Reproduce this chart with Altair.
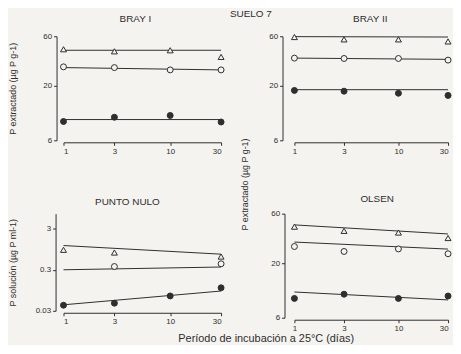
import altair as alt
import pandas as pd

INK = "#2e2e2e"
BG = "#f4f3ef"

days = [1, 3, 10, 30]
fit_days = [1, 30]
series_names = ["triangulo", "circulo abierto", "circulo lleno"]

# BRAY I  (µg P g-1)
bray1_tri = [45, 43, 44, 38]
bray1_open = [30.5, 30, 28.5, 28.5]
bray1_fill = [9.1, 10.0, 10.4, 9.0]
bray1_tri_fit = [44, 44]
bray1_open_fit = [30, 28.5]
bray1_fill_fit = [9.5, 9.5]

# BRAY II
bray2_tri = [59, 56, 56, 53.5]
bray2_open = [37, 36.7, 36.7, 35.4]
bray2_fill = [18.1, 17.8, 17.0, 16.2]
bray2_tri_fit = [59.5, 59]
bray2_open_fit = [37, 36]
bray2_fill_fit = [18.4, 18.4]

# PUNTO NULO (µg P ml-1)
pn_tri = [0.92, 0.79, None, 0.63]
pn_open = [None, 0.36, None, 0.42]
pn_fill = [0.041, 0.046, 0.069, 0.109]
pn_tri_fit = [1.17, 0.72]
pn_open_fit = [0.30, 0.35]
pn_fill_fit = [0.042, 0.091]

# OLSEN
ol_tri = [45, 41, 39.5, 35]
ol_open = [29, 26, 27.5, 24.7]
ol_fill = [9.2, 10.1, 9.2, 9.7]
ol_tri_fit = [46.8, 38.3]
ol_open_fit = [32, 27.4]
ol_fill_fit = [10.6, 8.9]

ext_ticks = [6, 20, 60]
sol_ticks = [0.03, 0.3, 3]


def panel(tri, opn, fil, tri_fit, opn_fit, fil_fit, title, title_dx, title_offset,
          ydomain, yvalues, yoffset, width, height, right_col=False,
          ytitle=None, ytitle_x=None, ytitle_y=None,
          xtitle=None, xtitle_x=None, xtitle_y=None):
    pts = []
    for name, vals in zip(series_names, [tri, opn, fil]):
        for d, v in zip(days, vals):
            if v is not None:
                pts.append({"dia": d, "valor": v, "serie": name})
    fits = []
    for name, vals in zip(series_names, [tri_fit, opn_fit, fil_fit]):
        for d, v in zip(fit_days, vals):
            fits.append({"dia": d, "valor": v, "serie": name})

    xaxis = dict(values=days, format="~g", offset=2)
    if right_col:
        xaxis.update(labelAlign={"condition": {"test": "datum.value == 30", "value": "right"},
                                 "value": "center"})
    if xtitle is not None:
        xaxis.update(title=xtitle, titleX=xtitle_x, titleY=xtitle_y, titleFontSize=11,
                     titleAlign="center")
    else:
        xaxis.update(title=None)
    yaxis = dict(values=yvalues, format="~g", offset=yoffset)
    if ytitle is not None:
        yaxis.update(title=ytitle, titleX=ytitle_x)
        if ytitle_y is not None:
            yaxis.update(titleY=ytitle_y)
    else:
        yaxis.update(title=None)

    x = alt.X("dia:Q", scale=alt.Scale(type="log", domain=[1, 30], nice=False),
              axis=alt.Axis(**xaxis))
    y = alt.Y("valor:Q", scale=alt.Scale(type="log", domain=ydomain, nice=False),
              axis=alt.Axis(**yaxis))

    lines = alt.Chart(pd.DataFrame(fits)).mark_line(color=INK, strokeWidth=1).encode(
        x=x, y=y, detail="serie:N")
    marks = alt.Chart(pd.DataFrame(pts)).mark_point(
        filled=True, stroke=INK, strokeWidth=1, size=36, opacity=1).encode(
        x=alt.X("dia:Q"), y=alt.Y("valor:Q"),
        shape=alt.Shape("serie:N", scale=alt.Scale(domain=series_names,
                        range=["triangle-up", "circle", "circle"]), legend=None),
        fill=alt.Fill("serie:N", scale=alt.Scale(domain=series_names,
                      range=[BG, BG, INK]), legend=None))
    return alt.layer(lines, marks).properties(
        width=width, height=height,
        title=alt.Title(title, fontSize=10, fontWeight="normal", color=INK,
                        anchor="middle", dx=title_dx, offset=title_offset))


tl = panel(bray1_tri, bray1_open, bray1_fill, bray1_tri_fit, bray1_open_fit, bray1_fill_fit,
           "BRAY I", -7, 8, [6, 60], ext_ticks, 7, 159, 105,
           ytitle="P extractado (µg P g-1)", ytitle_x=-39)
tr = panel(bray2_tri, bray2_open, bray2_fill, bray2_tri_fit, bray2_open_fit, bray2_fill_fit,
           "BRAY II", -1, 8, [6, 60], ext_ticks, 12, 155, 105, right_col=True,
           ytitle="P extractado (µg P g-1)", ytitle_x=-33, ytitle_y=149)
bl = panel(pn_tri, pn_open, pn_fill, pn_tri_fit, pn_open_fit, pn_fill_fit,
           "PUNTO NULO", -15, 7, [0.03, 7], sol_ticks, 8, 159, 98,
           ytitle="P solución (µg P ml-1)", ytitle_x=-38)
br = panel(ol_tri, ol_open, ol_fill, ol_tri_fit, ol_open_fit, ol_fill_fit,
           "OLSEN", 6, 6, [6, 60], ext_ticks, 10, 155, 105, right_col=True,
           xtitle="Período de incubación a 25°C (días)", xtitle_x=-29, xtitle_y=13)

chart = alt.concat(
    tl, tr, bl, br, columns=2, spacing={"row": 74, "column": 74}, bounds="flush",
    title=alt.Title("SUELO 7", fontSize=10, fontWeight="normal", color=INK,
                    anchor="middle", dx=20, dy=5, offset=0),
).configure(
    font="Liberation Sans", background=BG,
    padding={"top": 0, "left": 0, "right": 0, "bottom": 0},
).configure_view(stroke=None).configure_axis(
    grid=False, domainColor=INK, tickColor=INK, labelColor=INK, titleColor=INK,
    labelFontSize=8, titleFontSize=9, titleFontWeight="normal", tickSize=3,
    domainWidth=1, labelPadding=2, tickWidth=1,
)

chart.save("out.html", embed_options={"renderer": "svg", "actions": False})
